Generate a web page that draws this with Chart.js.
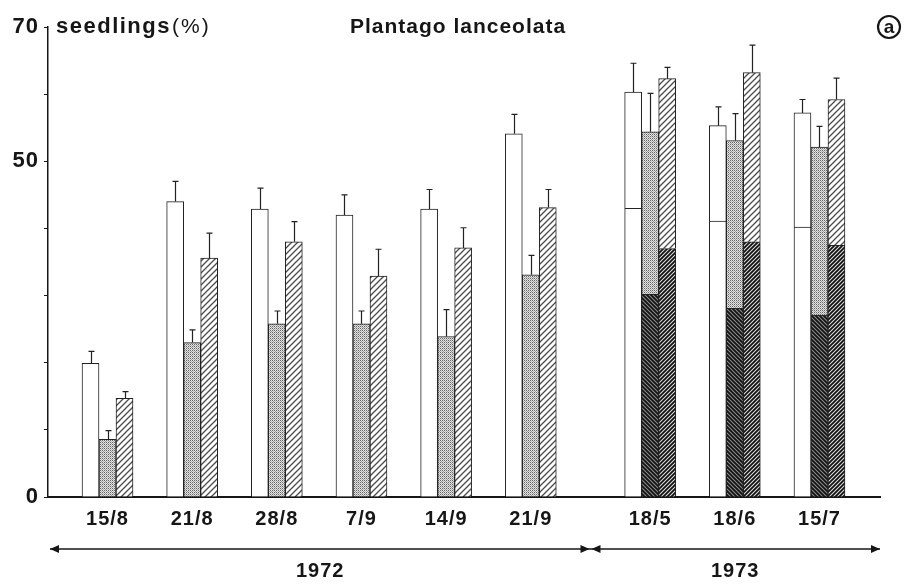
<!DOCTYPE html>
<html><head><meta charset="utf-8">
<script src="https://cdn.jsdelivr.net/npm/chart.js@4.4.0/dist/chart.umd.min.js"></script>
<style>html,body{margin:0;padding:0;background:#fff;}</style>
</head><body>
<canvas id="c" width="908" height="586" style="width:908px;height:586px;display:block"></canvas>
<script>
// ---- data ----
const dates1972 = ['15/8', '21/8', '28/8', '7/9', '14/9', '21/9'];
const dates1973 = ['18/5', '18/6', '15/7'];
const yearLabels = ['1972', '1973'];
const yTickLabels = [0, 50, 70];

// totals per bar (white, dotted, hatched)
const whiteTotal   = [19.9, 44.0, 42.9, 42.0, 42.9, 54.1, 60.3, 55.3, 57.2];
const whiteErr     = [1.8, 3.0, 3.1, 3.0, 2.9, 2.9, 4.3, 2.8, 2.0];
const whiteLower   = [null, null, null, null, null, null, 43.0, 41.1, 40.2];

const dottedTotal  = [8.6, 23.0, 25.8, 25.8, 23.9, 33.1, 54.4, 53.1, 52.1];
const dottedErr    = [1.3, 1.9, 1.9, 1.9, 4.0, 2.9, 5.7, 4.0, 3.1];
const dottedLower  = [null, null, null, null, null, null, 30.2, 28.1, 27.1];

const hatchedTotal = [14.7, 35.6, 38.0, 32.9, 37.1, 43.1, 62.3, 63.2, 59.2];
const hatchedErr   = [1.0, 3.7, 3.0, 4.0, 3.0, 2.7, 1.7, 4.1, 3.2];
const hatchedLower = [null, null, null, null, null, null, 37.0, 38.0, 37.5];

// ---- layout of categories on a linear index axis ----
const labels = dates1972.concat(dates1973);
const yearGap = 0.41;
const xPos = labels.map((_, i) => i < dates1972.length ? i + 1 : i + 1 + yearGap);
const xMin = 0.297, xMax = xPos[xPos.length - 1] + 0.715;

const upper = (tot, low) => tot.map((t, i) => low[i] == null ? t : t - low[i]);
const pts = arr => arr.map((v, i) => ({x: xPos[i], y: v}));

// ---- patterns ----
function pat(size, draw) {
  const c = document.createElement('canvas');
  c.width = c.height = size;
  const g = c.getContext('2d');
  draw(g, size);
  return g.createPattern(c, 'repeat');
}
function diag(g, s, color, w, back) {
  g.strokeStyle = color; g.lineWidth = w; g.beginPath();
  for (let k = -1; k <= 1; k++) {
    if (!back) { g.moveTo(k * s - 1, s + 1); g.lineTo(k * s + s + 1, -1); }
    else { g.moveTo(k * s - 1, -1); g.lineTo(k * s + s + 1, s + 1); }
  }
  g.stroke();
}
const stipple = pat(4, (g, s) => {
  g.fillStyle = '#e2e2e2'; g.fillRect(0, 0, s, s);
  g.fillStyle = '#666';
  g.fillRect(0, 0, 1, 1); g.fillRect(2, 0, 1, 1);
  g.fillRect(0, 2, 1, 1); g.fillRect(2, 2, 1, 1);
  g.fillStyle = '#9a9a9a'; g.fillRect(1, 1, 1, 1); g.fillRect(3, 3, 1, 1);
  g.fillStyle = '#b4b4b4'; g.fillRect(3, 1, 1, 1); g.fillRect(1, 3, 1, 1);
});
const lightHatch = pat(6, (g, s) => { g.fillStyle = '#fff'; g.fillRect(0, 0, s, s); diag(g, s, '#4a4a4a', 1.3, false); });
const darkHatch = pat(4, (g, s) => { g.fillStyle = '#e0e0e0'; g.fillRect(0, 0, s, s); diag(g, s, '#111', 1.8, false); });
const darkBack = pat(4, (g, s) => { g.fillStyle = '#8a8a8a'; g.fillRect(0, 0, s, s); diag(g, s, '#111', 1.7, true); });

const FONT = "'Liberation Sans', Arial, sans-serif";
const ink = '#161616';

const base = {borderColor: '#222', borderWidth: 1, borderSkipped: 'start', barThickness: 17};
const datasets = [
  Object.assign({label: 'white lower', stack: 'w', data: pts(whiteLower), backgroundColor: '#fff'}, base),
  Object.assign({label: 'dotted lower', stack: 'd', data: pts(dottedLower), backgroundColor: darkBack}, base),
  Object.assign({label: 'hatched lower', stack: 'h', data: pts(hatchedLower), backgroundColor: darkHatch}, base),
  Object.assign({label: 'white', stack: 'w', data: pts(upper(whiteTotal, whiteLower)), backgroundColor: '#fff'}, base),
  Object.assign({label: 'dotted', stack: 'd', data: pts(upper(dottedTotal, dottedLower)), backgroundColor: stipple}, base),
  Object.assign({label: 'hatched', stack: 'h', data: pts(upper(hatchedTotal, hatchedLower)), backgroundColor: lightHatch}, base)
];
const errGroups = [
  {ds: 3, total: whiteTotal, err: whiteErr},
  {ds: 4, total: dottedTotal, err: dottedErr},
  {ds: 5, total: hatchedTotal, err: hatchedErr}
];

const spacingPlugin = {
  id: 'spacing',
  beforeUpdate(chart) { chart.ctx.letterSpacing = '1px'; }
};

const errPlugin = {
  id: 'errbars',
  afterDatasetsDraw(chart) {
    const ctx = chart.ctx, y = chart.scales.y;
    ctx.save();
    ctx.strokeStyle = '#222'; ctx.lineWidth = 1.2;
    errGroups.forEach(gr => {
      chart.getDatasetMeta(gr.ds).data.forEach((bar, i) => {
        const x = Math.round(bar.x) + 0.5;
        const y0 = y.getPixelForValue(gr.total[i]);
        const y1 = y.getPixelForValue(gr.total[i] + gr.err[i]);
        ctx.beginPath();
        ctx.moveTo(x, y0); ctx.lineTo(x, y1);
        ctx.moveTo(x - 3, y1); ctx.lineTo(x + 3, y1);
        ctx.stroke();
      });
    });
    ctx.restore();
  }
};

const decoPlugin = {
  id: 'deco',
  afterDraw(chart) {
    const ctx = chart.ctx, xs = chart.scales.x, ys = chart.scales.y;
    const top = ys.getPixelForValue(70);
    ctx.save();
    ctx.fillStyle = ink; ctx.strokeStyle = ink;
    ctx.textBaseline = 'middle';
    ctx.textAlign = 'left';
    ctx.font = 'bold 22px ' + FONT;
    ctx.letterSpacing = '1.5px';
    const sx = xs.left + 8;
    ctx.fillText('seedlings', sx, top);
    const w = ctx.measureText('seedlings').width;
    ctx.font = '21px ' + FONT;
    ctx.letterSpacing = '2px';
    ctx.fillText('(%)', sx + w + 1, top);
    ctx.textAlign = 'center';
    ctx.font = 'bold 21px ' + FONT;
    ctx.letterSpacing = '1px';
    ctx.fillText('Plantago lanceolata', 458, top);
    // circled a
    ctx.lineWidth = 2.2;
    ctx.beginPath(); ctx.arc(889, top, 11, 0, Math.PI * 2); ctx.stroke();
    ctx.font = 'bold 19px ' + FONT;
    ctx.letterSpacing = '0px';
    ctx.fillText('a', 889, top + 1);
    // year arrows
    const n72 = dates1972.length;
    const split = (xs.getPixelForValue(xPos[n72 - 1]) + xs.getPixelForValue(xPos[n72])) / 2;
    const l = xs.left + 2, r = xs.right;
    const ay = 549;
    ctx.lineWidth = 1.3;
    ctx.beginPath(); ctx.moveTo(l, ay); ctx.lineTo(r, ay); ctx.stroke();
    const head = (tipX, dir) => {
      ctx.beginPath();
      ctx.moveTo(tipX, ay);
      ctx.lineTo(tipX - dir * 9, ay - 4);
      ctx.lineTo(tipX - dir * 9, ay + 4);
      ctx.closePath(); ctx.fill();
    };
    head(l, -1); head(split - 1, 1); head(split + 1, -1); head(r, 1);
    ctx.font = 'bold 20px ' + FONT;
    ctx.letterSpacing = '1px';
    ctx.fillText(yearLabels[0], (l + split) / 2, 571);
    ctx.fillText(yearLabels[1], (split + r) / 2, 571);
    ctx.restore();
  }
};

new Chart(document.getElementById('c'), {
  type: 'bar',
  data: {datasets},
  options: {
    responsive: false,
    animation: false,
    layout: {padding: {top: 27, right: 28, left: 0, bottom: 0}},
    plugins: {legend: {display: false}, tooltip: {enabled: false}},
    scales: {
      x: {
        type: 'linear', min: xMin, max: xMax, offset: false, stacked: true,
        grid: {display: false, drawTicks: false},
        border: {display: true, color: ink, width: 2},
        afterBuildTicks: s => { s.ticks = xPos.map(v => ({value: v})); },
        afterFit: s => { s.height = 89; },
        ticks: {
          autoSkip: false, maxRotation: 0, padding: 10, color: ink,
          font: {family: FONT, size: 20, weight: 'bold'},
          callback: (v, i) => labels[i]
        }
      },
      y: {
        min: 0, max: 70, stacked: true,
        grid: {drawOnChartArea: false, drawTicks: true, tickLength: 4, color: ink, lineWidth: 1},
        border: {display: true, color: ink, width: 1.5},
        afterFit: s => { s.width = 48; },
        afterBuildTicks: s => { s.ticks = [0, 10, 20, 30, 40, 50, 60, 70].map(v => ({value: v})); },
        ticks: {
          padding: 5, color: ink, autoSkip: false,
          font: {family: FONT, size: 22, weight: 'bold'},
          callback: v => yTickLabels.includes(v) ? String(v) : ''
        }
      }
    }
  },
  plugins: [spacingPlugin, errPlugin, decoPlugin]
});
</script>
</body></html>
